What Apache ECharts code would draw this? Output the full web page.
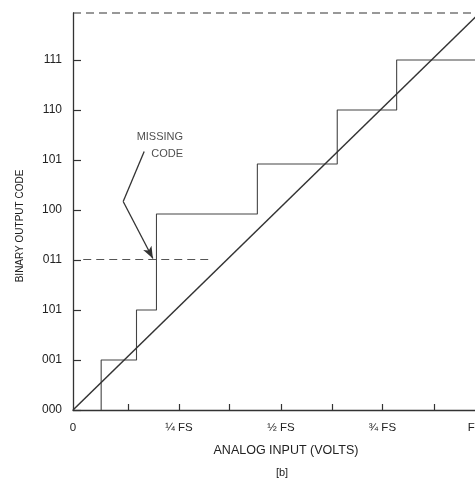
<!DOCTYPE html>
<html>
<head>
<meta charset="utf-8">
<script src="https://cdn.jsdelivr.net/npm/echarts@6/dist/echarts.min.js"></script>
<style>
html,body{margin:0;padding:0;background:#fff;}
#chart{width:475px;height:479px;}
</style>
</head>
<body>
<div id="chart"></div>
<script>
// X in eighths of full scale, Y in output code units
const yTickValues = [0, 1, 2, 3, 4, 5, 6, 7];
const yTickLabels = ['000', '001', '101', '011', '100', '101', '110', '111'];
const xTickValues = [1.08, 2.07, 3.05, 4.06, 5.06, 6.04, 7.05];
const xLabelValues = [0, 2.07, 4.06, 6.04, 7.85];
const xLabelTexts = ['0', '\u00BC FS', '\u00BD FS', '\u00BE FS', 'FS'];
const xMax = 7.85;
const fullScaleCode = 7.94;

// staircase transfer function: transition inputs and output levels
const stepTransitions = [0.55, 1.24, 1.63, 3.60, 5.16, 6.32];
const stepLevels = [0, 1.0, 2.0, 3.92, 4.92, 6.0, 7.0];
const stepEnd = 8;

// ideal straight transfer line
const idealLine = [[0, 0], [8, 8]];

// missing code dashed marker (code 011)
const missingCodeLine = [[0.2, 3.01], [2.64, 3.01]];

// annotation arrow polyline
const arrowPoints = [[1.39, 5.17], [0.98, 4.17], [1.56, 3.03]];
const annotationAnchor = [2.15, 5.3];
const annotationText = 'MISSING\nCODE';

const stepData = [];
for (let i = 0; i < stepTransitions.length; i++) {
  stepData.push([stepTransitions[i], stepLevels[i]]);
  stepData.push([stepTransitions[i], stepLevels[i + 1]]);
}
stepData.push([stepEnd, stepLevels[stepLevels.length - 1]]);

const ink = '#333';
const textInk = '#222';
const font = 'Liberation Sans, Arial, sans-serif';

const chart = echarts.init(document.getElementById('chart'));
chart.setOption({
  animation: false,
  backgroundColor: '#fff',
  grid: { left: 73, top: 13, right: 0, bottom: 69, outerBoundsMode: 'none', containLabel: false },
  xAxis: {
    type: 'value', min: 0, max: xMax,
    axisLine: { show: true, lineStyle: { color: ink, width: 1.3 } },
    axisTick: { show: true, inside: true, length: 6, customValues: xTickValues, lineStyle: { color: ink, width: 1.2 } },
    axisLabel: {
      customValues: xLabelValues, margin: 12, color: textInk, fontFamily: font, fontSize: 11.5,
      formatter: function (v) {
        let best = 0, bd = 1e9;
        xLabelValues.forEach(function (lv, i) { const d = Math.abs(lv - v); if (d < bd) { bd = d; best = i; } });
        return xLabelTexts[best];
      }
    },
    splitLine: { show: false }
  },
  yAxis: {
    type: 'value', min: 0, max: fullScaleCode,
    axisLine: { show: true, lineStyle: { color: ink, width: 1.3 } },
    axisTick: { show: true, inside: true, length: 8, customValues: yTickValues, lineStyle: { color: ink, width: 1.2 } },
    axisLabel: {
      customValues: yTickValues, margin: 11, color: textInk, fontFamily: font, fontSize: 12,
      formatter: function (v) { return yTickLabels[Math.round(v)]; }
    },
    splitLine: { show: false }
  },
  graphic: [
    { type: 'text', style: { text: 'ANALOG INPUT (VOLTS)', x: 286, y: 451, fill: textInk, font: '12.5px ' + font, align: 'center', verticalAlign: 'middle' } },
    { type: 'text', style: { text: '[b]', x: 282, y: 473, fill: textInk, font: '11px ' + font, align: 'center', verticalAlign: 'middle' } },
    { type: 'text', rotation: Math.PI / 2, x: 20, y: 226, style: { text: 'BINARY OUTPUT CODE', fill: textInk, font: '10px ' + font, align: 'center', verticalAlign: 'middle' } }
  ],
  series: [
    {
      type: 'line', data: [[0, fullScaleCode], [xMax, fullScaleCode]], symbol: 'none', silent: true,
      lineStyle: { color: ink, width: 1.2, type: [8, 5] }, clip: false
    },
    {
      type: 'line', data: stepData, symbol: 'none', silent: true,
      lineStyle: { color: '#444', width: 1.1 }
    },
    {
      type: 'line', data: idealLine, symbol: 'none', silent: true,
      lineStyle: { color: '#333', width: 1.5 }
    },
    {
      type: 'line', data: missingCodeLine, symbol: 'none', silent: true,
      lineStyle: { color: '#555', width: 1.1, type: [8, 5] }
    },
    {
      type: 'line', data: [], silent: true,
      markLine: {
        silent: true, animation: false,
        label: { show: false },
        lineStyle: { color: '#333', width: 1.3, type: 'solid' },
        data: [
          [{ coord: arrowPoints[0], symbol: 'none' }, { coord: arrowPoints[1], symbol: 'none' }],
          [{ coord: arrowPoints[1], symbol: 'none' }, { coord: arrowPoints[2], symbol: 'arrow', symbolSize: [7, 12] }]
        ]
      }
    },
    {
      type: 'scatter', data: [annotationAnchor], symbolSize: 0, silent: true,
      label: {
        show: true, position: 'left', distance: 0, formatter: annotationText,
        align: 'right', color: textInk, fontFamily: font, fontSize: 11, lineHeight: 17
      }
    }
  ]
});
</script>
</body>
</html>
